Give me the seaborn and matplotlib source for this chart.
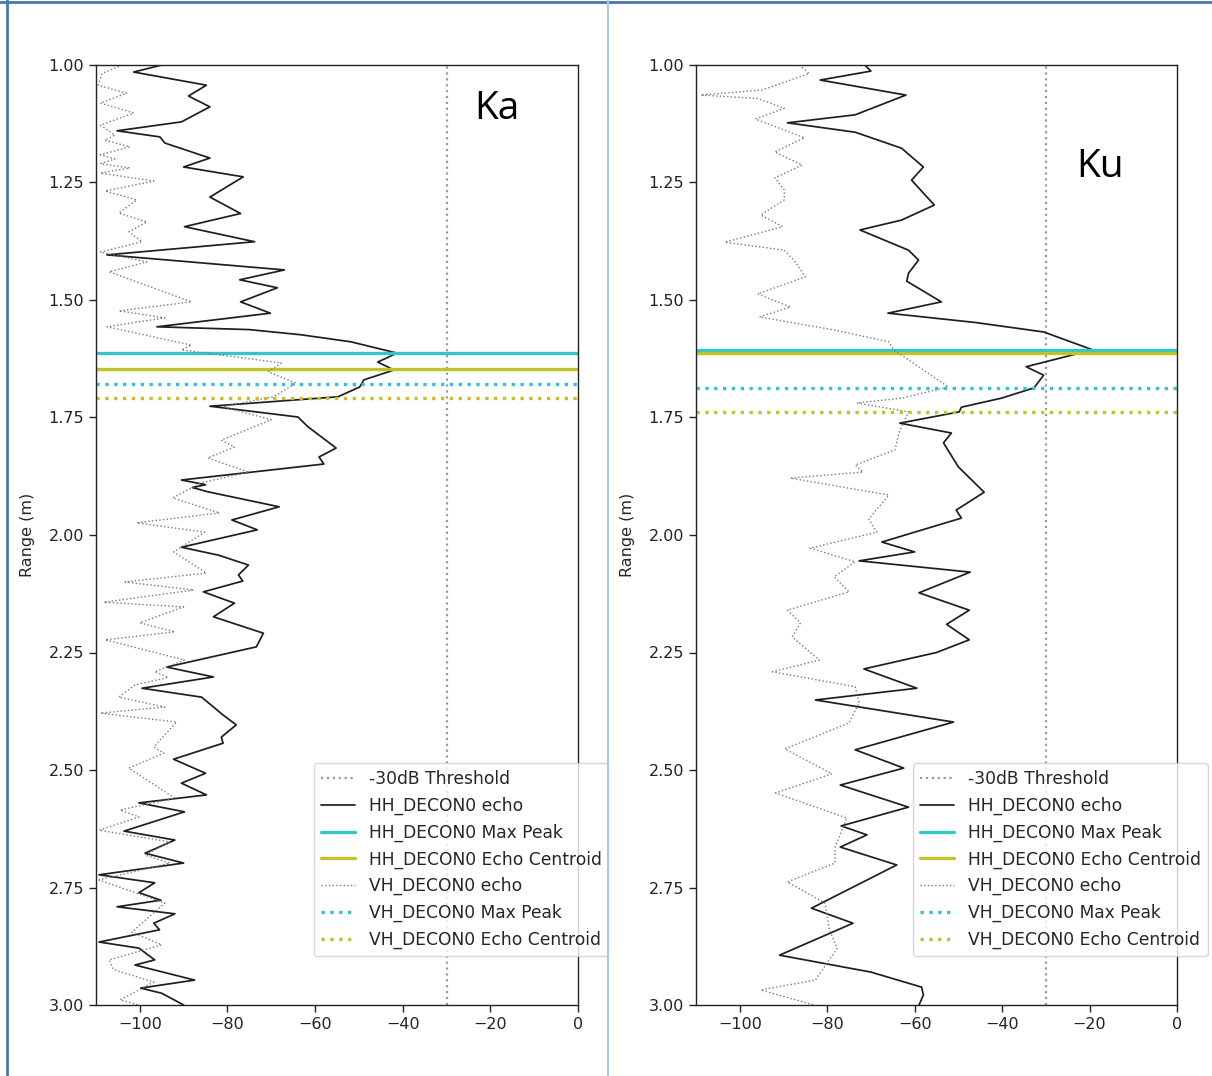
import numpy as np
import pandas as pd
import matplotlib
matplotlib.use("Agg")
import matplotlib.pyplot as plt
from matplotlib.lines import Line2D
import seaborn as sns

# ---------------- data ----------------
THRESH = -30
x_ticks = [-100, -80, -60, -40, -20, 0]
y_ticks = [1.00, 1.25, 1.50, 1.75, 2.00, 2.25, 2.50, 2.75, 3.00]

ka_hh_r = [1.000, 1.015, 1.043, 1.066, 1.089, 1.121, 1.140, 1.153, 1.166, 1.198, 1.217, 1.238,
           1.281, 1.316, 1.344, 1.376, 1.404, 1.436, 1.457, 1.474, 1.504, 1.528, 1.557, 1.563,
           1.574, 1.589, 1.613, 1.632, 1.649, 1.670, 1.685, 1.706, 1.726, 1.749, 1.770, 1.791,
           1.815, 1.834, 1.849, 1.883, 1.893, 1.899, 1.908, 1.940, 1.968, 1.989, 2.026, 2.043,
           2.064, 2.085, 2.098, 2.121, 2.145, 2.174, 2.209, 2.238, 2.281, 2.302, 2.326, 2.345,
           2.383, 2.404, 2.430, 2.443, 2.477, 2.507, 2.528, 2.553, 2.570, 2.589, 2.630, 2.649,
           2.677, 2.698, 2.723, 2.740, 2.761, 2.777, 2.791, 2.806, 2.826, 2.840, 2.866, 2.879,
           2.904, 2.915, 2.947, 2.964, 2.975, 3.000]
ka_hh_db = [-95, -101.4, -84.8, -88.9, -84, -90.5, -105.2, -95.4, -94.3, -84, -90, -76.4,
            -84, -77, -89.8, -73.8, -107.5, -67, -77.2, -68.6, -77, -70.2, -96.1, -75,
            -63.2, -51.8, -41.3, -45.7, -42, -48.9, -49.8, -54.8, -84, -63.9, -61.6, -58.6,
            -55.2, -59.1, -58, -90.5, -85, -88, -84.5, -68.2, -79, -73.2, -90.5, -82,
            -75.2, -77.5, -76.5, -85.5, -78.4, -83.2, -71.8, -73.4, -93.9, -83.2, -99.5, -85.9,
            -81, -78, -81.4, -81, -92.3, -85, -90.5, -84.8, -100.2, -89.8, -103.6, -92,
            -98.8, -90, -109.3, -96.6, -100.2, -95.2, -105.2, -92, -96.8, -95.5, -109.3, -100.2,
            -96.6, -101.1, -87.5, -99.8, -95, -90]

ka_vh_r = [1.000, 1.018, 1.043, 1.060, 1.081, 1.102, 1.128, 1.149, 1.160, 1.174, 1.191, 1.200,
           1.210, 1.219, 1.230, 1.247, 1.268, 1.287, 1.315, 1.334, 1.355, 1.376, 1.398, 1.419,
           1.440, 1.504, 1.523, 1.538, 1.557, 1.596, 1.606, 1.634, 1.653, 1.677, 1.706, 1.727,
           1.755, 1.798, 1.813, 1.836, 1.866, 1.889, 1.921, 1.953, 1.974, 1.994, 2.036, 2.081,
           2.100, 2.117, 2.143, 2.153, 2.187, 2.206, 2.223, 2.266, 2.291, 2.303, 2.319, 2.345,
           2.366, 2.379, 2.398, 2.451, 2.464, 2.496, 2.560, 2.585, 2.600, 2.628, 2.653, 2.681,
           2.698, 2.734, 2.783, 2.845, 2.872, 2.904, 2.925, 2.951, 2.989, 3.000]
ka_vh_db = [-104, -108.6, -109.5, -103, -109, -101.4, -109, -105.7, -108, -102.3, -109, -105.7,
            -109, -102.3, -109, -96.8, -107.9, -100.7, -104.8, -98.4, -102.5, -99.5, -109, -98.4,
            -107, -88.2, -104.8, -94.3, -107.5, -88.2, -90.5, -67.7, -70.7, -64.3, -69.5, -81,
            -70, -81.4, -78.4, -84.5, -75.2, -85.9, -92.5, -81.8, -100.7, -85.2, -92.3, -84.8,
            -103.4, -87.7, -108.2, -90, -100, -92, -107.9, -89.8, -96.6, -93.5, -101.1, -104.8,
            -94.3, -109, -91.6, -96.8, -94.5, -102.5, -92, -104.5, -100.2, -109.3, -93.2, -98.8,
            -93.2, -109.3, -94.3, -101.8, -95, -107, -106, -96.8, -104.5, -100.2]

ku_hh_r = [1.000, 1.013, 1.032, 1.064, 1.106, 1.123, 1.143, 1.177, 1.217, 1.245, 1.298, 1.330,
           1.351, 1.394, 1.415, 1.443, 1.460, 1.504, 1.528, 1.548, 1.568, 1.606, 1.642, 1.660,
           1.687, 1.709, 1.728, 1.738, 1.762, 1.783, 1.804, 1.855, 1.909, 1.947, 1.964, 2.015,
           2.036, 2.055, 2.079, 2.123, 2.160, 2.190, 2.223, 2.250, 2.285, 2.326, 2.351, 2.398,
           2.457, 2.496, 2.532, 2.579, 2.619, 2.638, 2.664, 2.702, 2.745, 2.794, 2.826, 2.894,
           2.930, 2.962, 2.979, 3.000]
ku_hh_db = [-71.4, -70, -81.6, -62, -73.6, -89.1, -73.6, -63, -58, -60.7, -55.5, -63,
            -72.5, -61.4, -59.1, -61.4, -61.8, -53.9, -66.1, -46, -30.5, -19.3, -34.5, -30.5,
            -32.7, -40.2, -49.3, -49.8, -63.4, -51.6, -53.4, -50, -44.1, -50.5, -49.3, -67.5,
            -60, -72.7, -47.3, -59, -47.5, -52.7, -47.5, -55, -71.6, -59.5, -82.7, -51.1,
            -73.6, -62.5, -77, -61.4, -76.8, -70.9, -77, -64.1, -73.2, -83.6, -74.1, -90.9,
            -70, -58.4, -58, -59]

ku_vh_r = [1.000, 1.018, 1.053, 1.064, 1.071, 1.092, 1.115, 1.155, 1.185, 1.213, 1.240, 1.266,
           1.287, 1.319, 1.344, 1.377, 1.394, 1.419, 1.451, 1.487, 1.515, 1.536, 1.564, 1.589,
           1.606, 1.642, 1.685, 1.709, 1.719, 1.738, 1.783, 1.819, 1.851, 1.866, 1.879, 1.915,
           1.966, 1.994, 2.028, 2.057, 2.089, 2.121, 2.160, 2.187, 2.217, 2.266, 2.291, 2.323,
           2.357, 2.400, 2.455, 2.508, 2.549, 2.602, 2.664, 2.698, 2.738, 2.783, 2.840, 2.879,
           2.947, 2.968, 3.000]
ku_vh_db = [-86.4, -84.1, -94.8, -108.9, -96, -89.8, -96.4, -85.2, -92, -85.7, -92, -89.8,
            -89.8, -95.2, -90.2, -103.4, -89.8, -87.3, -85, -95.9, -88.4, -95.5, -78.2, -65.9,
            -64.8, -59.1, -52.3, -63, -73.2, -61.4, -63.6, -64.5, -73.6, -71.8, -88.4, -65.9,
            -70.5, -68.6, -83.9, -73.6, -78.4, -75, -89.1, -86.1, -88, -81.8, -92.5, -73.6,
            -72.7, -75, -89.7, -78.9, -91.8, -75.5, -78.2, -78.2, -89.1, -80.5, -79.5, -77.7,
            -82.7, -95.2, -83]

# HH max peak, HH centroid, VH max peak, VH centroid
ka_lines = [1.613, 1.647, 1.679, 1.709]
ku_lines = [1.606, 1.613, 1.687, 1.738]

labels = ["-30dB Threshold", "HH_DECON0 echo", "HH_DECON0 Max Peak", "HH_DECON0 Echo Centroid",
          "VH_DECON0 echo", "VH_DECON0 Max Peak", "VH_DECON0 Echo Centroid"]

# ---------------- style ----------------
sns.set_style("ticks")
plt.rcParams["font.family"] = ["DejaVu Sans"]
CYAN = "#33c6c6"
OLIVE = "#c2c22a"

W, H = 1212, 1076
fig = plt.figure(figsize=(W / 100, H / 100), dpi=100)
ax1 = fig.add_axes([96 / W, 1 - 1005 / H, 482 / W, 940 / H])
ax2 = fig.add_axes([696 / W, 1 - 1005 / H, 481 / W, 940 / H])


def panel(ax, hh_r, hh_db, vh_r, vh_db, lines, name, pos):
    ax.axvline(THRESH, color="#9a9a9a", ls=":", lw=1.6, label=labels[0])
    sns.lineplot(x=hh_db, y=hh_r, sort=False, estimator=None, color="#1e1e1e",
                 lw=1.25, ax=ax, label=labels[1], solid_joinstyle="round")
    ax.axhline(lines[0], color=CYAN, lw=2.4, label=labels[2])
    ax.axhline(lines[1], color=OLIVE, lw=2.4, label=labels[3])
    sns.lineplot(x=vh_db, y=vh_r, sort=False, estimator=None, color="#7a7a7a",
                 lw=1.0, ls=":", ax=ax, label=labels[4])
    ax.axhline(lines[2], color=CYAN, lw=2.4, ls=":", label=labels[5])
    ax.axhline(lines[3], color=OLIVE, lw=2.4, ls=":", label=labels[6])

    ax.set_xlim(-110, 0)
    ax.set_ylim(3.0, 1.0)
    ax.set_xticks(x_ticks)
    ax.set_yticks(y_ticks)
    ax.set_yticklabels([f"{v:.2f}" for v in y_ticks])
    ax.tick_params(labelsize=11.5, length=5, width=1, colors="#222222")
    ax.set_xlabel("")
    ax.set_ylabel("Range (m)", fontsize=11.5, labelpad=10)
    for s in ax.spines.values():
        s.set_visible(True)
        s.set_color("#222222")
        s.set_linewidth(1.0)
    ax.text(pos[0], pos[1], name, transform=ax.transAxes, fontsize=28,
            family="Open Sans", ha="center", va="center", color="black")
    leg = ax.legend(loc="upper left", bbox_to_anchor=(0.452, 0.257), borderaxespad=0,
                    fontsize=12.3, frameon=True, framealpha=0.8, edgecolor="#cccccc",
                    fancybox=True, handlelength=2.0, labelspacing=0.5)
    leg.get_frame().set_linewidth(1.0)


panel(ax1, ka_hh_r, ka_hh_db, ka_vh_r, ka_vh_db, ka_lines, "Ka", (0.832, 0.953))
panel(ax2, ku_hh_r, ku_hh_db, ku_vh_r, ku_vh_db, ku_lines, "Ku", (0.84, 0.892))

# screenshot frame lines
fig.add_artist(Line2D([7 / W, 7 / W], [0, 1], color="#4a78ad", lw=2, transform=fig.transFigure))
fig.add_artist(Line2D([0, 1], [1 - 1.5 / H, 1 - 1.5 / H], color="#4a78ad", lw=2, transform=fig.transFigure))
fig.add_artist(Line2D([607.5 / W, 607.5 / W], [0, 1], color="#a9c9ea", lw=1.5, transform=fig.transFigure))

fig.savefig("out.png", dpi=100, facecolor="white")
